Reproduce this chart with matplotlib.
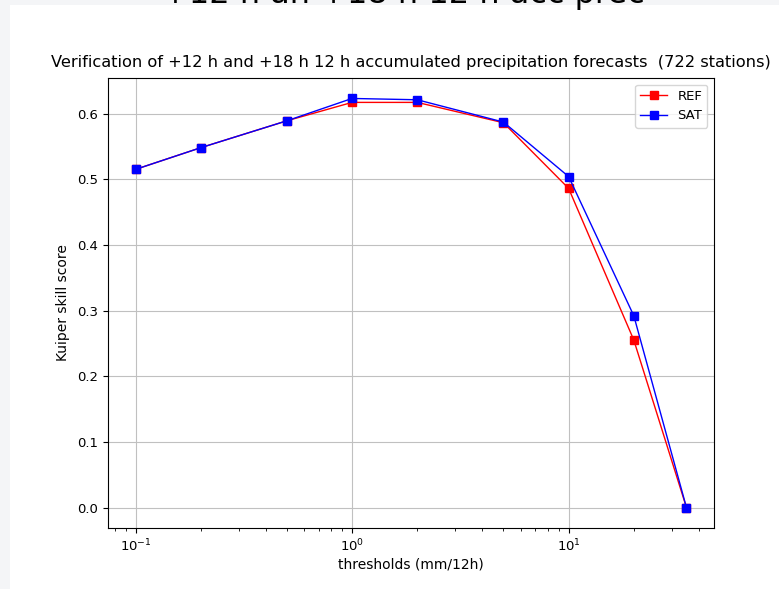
import numpy as np
from matplotlib import pyplot as plt
from matplotlib.patches import Rectangle

# thresholds (mm/12h) and Kuiper skill scores
thresholds = [0.1, 0.2, 0.5, 1, 2, 5, 10, 20, 35]
ref_scores = [0.515, 0.548, 0.589, 0.617, 0.617, 0.586, 0.486, 0.255, 0.0]
sat_scores = [0.515, 0.548, 0.589, 0.623, 0.621, 0.587, 0.504, 0.292, 0.0]

title = "Verification of +12 h and +18 h 12 h accumulated precipitation forecasts  (722 stations)"
page_title = "+12 h an +18 h 12 h acc prec"

W, H = 779, 589
fig = plt.figure(figsize=(W / 100, H / 100), dpi=100)
fig.patch.set_facecolor('#f4f5f7')

# white figure area inside the page
fig.patches.append(Rectangle((10 / W, 0), 1 - 10 / W, 1 - 5 / H, transform=fig.transFigure,
                             facecolor='white', edgecolor='none', zorder=-10))

# big title of the page, cut off at the top
fig.text(0.518, 1 - 3 / H, page_title, ha='center', va='baseline', fontsize=23, color='black')

ax = fig.add_axes([108 / W, 61 / H, 606 / W, 450 / H])
ax.plot(thresholds, ref_scores, 'r-s', lw=1, ms=6, label='REF')
ax.plot(thresholds, sat_scores, 'b-s', lw=1, ms=6, label='SAT')
ax.set_xscale('log')
ax.grid(True, color='#c0c0c0')
ax.set_title(title, fontsize=11.7, pad=8)
ax.set_xlabel('thresholds (mm/12h)', fontsize=10, labelpad=2)
ax.set_ylabel('Kuiper skill score', fontsize=10, labelpad=5)
ax.tick_params(labelsize=9.5)
ax.legend(loc='upper right', fontsize=9.5)

fig.savefig('out.png', dpi=100, facecolor=fig.get_facecolor())
